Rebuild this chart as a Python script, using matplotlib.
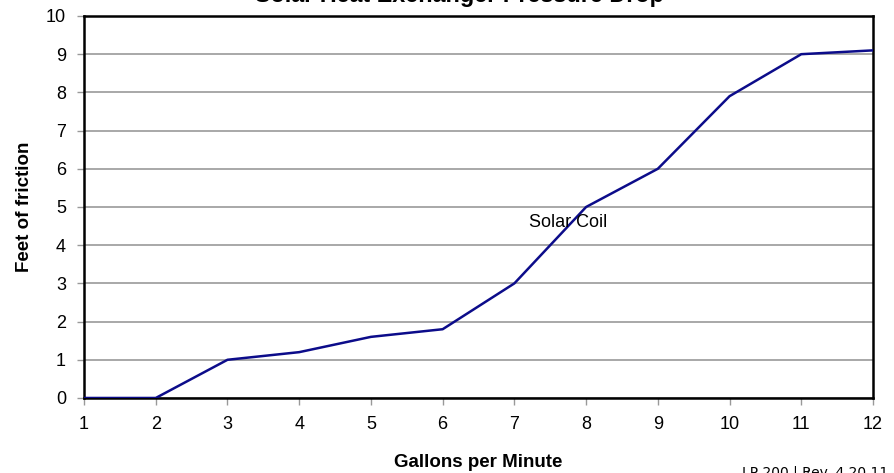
import matplotlib
matplotlib.use("Agg")
from matplotlib import pyplot as plt

plt.rcParams['font.family'] = ['Liberation Sans', 'DejaVu Sans']

gpm = [1, 2, 3, 4, 5, 6, 7, 8, 9, 10, 11, 12]
friction = [0, 0, 1, 1.2, 1.6, 1.8, 3, 5, 6, 7.9, 9, 9.1]

fig = plt.figure(figsize=(8.94, 4.73), dpi=100)
ax = fig.add_axes([0.094, 0.1586, 0.8825, 0.8076])

ax.plot(gpm, friction, color='#0c0c8a', linewidth=1.8, zorder=3)

ax.set_xlim(1, 12)
ax.set_ylim(0, 10)
ax.set_xticks(gpm)
ax.set_yticks(range(0, 11))
ax.yaxis.grid(True, color='#999999', linewidth=1.2)
ax.set_axisbelow(True)
for s in ax.spines.values():
    s.set_linewidth(1.8)
    s.set_color('black')
ax.tick_params(axis='both', direction='out', length=5, width=1, color='#999999',
               labelsize=13, pad=8)

ax.text(7.2, 4.6, 'Solar Coil', fontsize=13, va='center', ha='left')

ax.set_xlabel('Gallons per Minute', fontsize=13.5, fontweight='bold', labelpad=15)
ax.set_ylabel('Feet of friction', fontsize=13.5, fontweight='bold', labelpad=9)

fig.text(0.5145, 0.996, 'Solar Heat Exchanger Pressure Drop', fontsize=16.8,
         fontweight='bold', ha='center', va='baseline')
fig.text(0.83, 1 - 465 / 473, 'LP 200 | Rev. 4.20.11', fontsize=10,
         family='DejaVu Sans', ha='left', va='top')

fig.savefig('out.png', dpi=100)
